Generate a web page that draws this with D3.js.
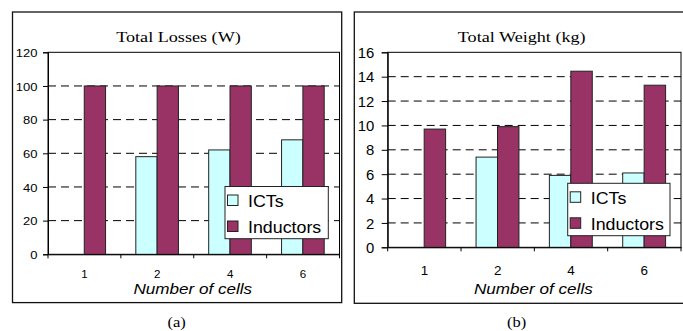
<!DOCTYPE html>
<html>
<script src='https://d3js.org/d3.v7.min.js'></script>
<style>
body {margin: 0; background: white;}
.grid {stroke: black; stroke-dasharray: 8,5; stroke-width: 1;}
.bar {stroke: #222; stroke-width: 1;}
</style>
<body onload='init()'>
<script>
// values
var cells = ['1', '2', '4', '6'];
var series = ['ICTs', 'Inductors'];
var lossICTs = [0, 58, 62, 68];
var lossInductors = [100, 100, 100, 100];
var weightICTs = [0, 7.4, 5.9, 6.1];
var weightInductors = [9.7, 9.9, 14.45, 13.3];
var lossTicks = [0, 20, 40, 60, 80, 100, 120];
var weightTicks = [0, 2, 4, 6, 8, 10, 12, 14, 16];
var colors = {ICTs: '#ccffff', Inductors: '#993366'};

function label(g, x, y, txt, size, family, sx, anchor, italic) {
  return g.append('text')
    .attr('transform', 'translate(' + x + ',' + y + ') scale(' + sx + ',1)')
    .attr('dy', '0.35em')
    .style('font-family', family)
    .style('font-size', size + 'px')
    .style('font-style', italic ? 'italic' : 'normal')
    .style('text-anchor', anchor)
    .text(txt);
}

function drawPanel(svg, p) {
  var g = svg.append('g');

  // outer frame
  g.append('rect')
    .attr('x', p.box[0]).attr('y', p.box[1])
    .attr('width', p.box[2] - p.box[0]).attr('height', p.box[3] - p.box[1])
    .attr('fill', 'white').attr('stroke', '#111').attr('stroke-width', 1.3);

  var x = d3.scaleBand().domain(cells).range([p.l, p.r]);
  var x1 = d3.scaleBand().domain(series)
    .range([x.bandwidth() * 0.205, x.bandwidth() * 0.79]);
  var y = d3.scaleLinear().domain([0, p.ticks[p.ticks.length - 1]]).range([p.b, p.t]);

  // dashed gridlines
  g.selectAll('.grid')
    .data(p.ticks.slice(1, -1))
    .enter()
    .append('line')
    .attr('class', 'grid')
    .attr('x1', p.l).attr('x2', p.r)
    .attr('y1', function(d) { return y(d); })
    .attr('y2', function(d) { return y(d); });

  // plot area border
  g.append('rect')
    .attr('x', p.l).attr('y', p.t)
    .attr('width', p.r - p.l).attr('height', p.b - p.t)
    .attr('fill', 'none').attr('stroke', 'black');

  var rows = cells.map(function(c, i) {
    return [{c: c, s: 'ICTs', v: p.a[i]}, {c: c, s: 'Inductors', v: p.bv[i]}];
  });

  g.selectAll('.grp')
    .data(rows)
    .enter()
    .append('g')
    .attr('transform', function(d) { return 'translate(' + x(d[0].c) + ',0)'; })
    .selectAll('rect')
    .data(function(d) { return d; })
    .enter()
    .append('rect')
    .attr('class', 'bar')
    .attr('x', function(d) { return x1(d.s); })
    .attr('width', x1.bandwidth())
    .attr('y', function(d) { return y(d.v); })
    .attr('height', function(d) { return y(0) - y(d.v); })
    .attr('fill', function(d) { return colors[d.s]; });

  // y axis
  var ya = g.append('g')
    .attr('transform', 'translate(' + p.l + ',0)')
    .call(d3.axisLeft(y).tickValues(p.ticks).tickSize(p.ytick).tickFormat(d3.format('d')));
  ya.select('.domain').attr('stroke', 'black');
  ya.selectAll('line').attr('stroke', 'black');
  ya.selectAll('text')
    .attr('x', -(p.ytick + p.ygap) / p.ysx)
    .attr('dy', '0.36em')
    .attr('transform', 'scale(' + p.ysx + ',1)')
    .attr('fill', 'black')
    .style('font-family', 'Liberation Sans, Arial, sans-serif')
    .style('font-size', p.yfont + 'px');

  // x axis
  var xa = g.append('g')
    .attr('transform', 'translate(0,' + p.b + ')')
    .call(d3.axisBottom(x).tickSize(0).tickSizeOuter(0));
  xa.select('.domain').attr('stroke', 'black');
  xa.selectAll('text')
    .attr('y', 0)
    .attr('dy', '0.35em')
    .attr('transform', 'translate(0,' + p.xoff + ') scale(' + p.xsx + ',1)')
    .attr('fill', 'black')
    .style('font-family', 'Liberation Sans, Arial, sans-serif')
    .style('font-size', p.xfont + 'px');

  // tick marks between categories
  g.selectAll('.btick')
    .data(cells.map(function(c) { return x(c); }).concat([p.r]))
    .enter()
    .append('line')
    .attr('x1', function(d) { return d; }).attr('x2', function(d) { return d; })
    .attr('y1', p.b).attr('y2', p.b + 4)
    .attr('stroke', 'black');

  // titles
  label(g, p.titleX, 36.5, p.title, 15.5, 'Liberation Serif, Times New Roman, serif', 1.17, 'middle');
  label(g, (p.l + p.r) / 2 - 1, 288.5, 'Number of cells', 15, 'Liberation Sans, Arial, sans-serif', 1.14, 'middle', true);
  label(g, p.capX, 321.5, p.caption, 15, 'Liberation Serif, Times New Roman, serif', 1.1, 'middle');

  // legend
  var lg = g.append('g').attr('transform', 'translate(' + p.leg[0] + ',' + p.leg[1] + ')');
  lg.append('rect')
    .attr('width', p.leg[2]).attr('height', p.leg[3])
    .attr('fill', 'white').attr('stroke', '#222');
  series.forEach(function(s, i) {
    var cy = 14 + i * 26;
    lg.append('rect')
      .attr('class', 'bar')
      .attr('x', 2.5).attr('y', cy - 5.5)
      .attr('width', 10.5).attr('height', 10.5)
      .attr('fill', colors[s]);
    label(lg, 23, cy + 1, s, 16.5, 'Liberation Sans, Arial, sans-serif', 1.08, 'start');
  });
}

function init() {
  var svg = d3.select('body')
    .append('svg')
    .attr('width', 683)
    .attr('height', 331);

  drawPanel(svg, {
    box: [12.5, 12, 341.7, 302.6],
    l: 48, r: 339.5, t: 52.3, b: 254.3,
    ticks: lossTicks, a: lossICTs, bv: lossInductors,
    ytick: 5, ygap: 5.5, ysx: 1.13, yfont: 11.5,
    xoff: 20.5, xsx: 1.1, xfont: 10.5,
    title: 'Total Losses (W)', titleX: 178.5,
    caption: '(a)', capX: 176.7,
    leg: [225, 186.5, 103.3, 52.2]
  });

  drawPanel(svg, {
    box: [354.3, 12, 690, 303.3],
    l: 387.7, r: 681, t: 52.3, b: 247.3,
    ticks: weightTicks, a: weightICTs, bv: weightInductors,
    ytick: 6, ygap: 7.5, ysx: 1.04, yfont: 14.3,
    xoff: 23.5, xsx: 1.05, xfont: 12.8,
    title: 'Total Weight (kg)', titleX: 521.7,
    caption: '(b)', capX: 516.7,
    leg: [567.7, 183.3, 102.3, 52.4]
  });
}
</script>
</body>
</html>
